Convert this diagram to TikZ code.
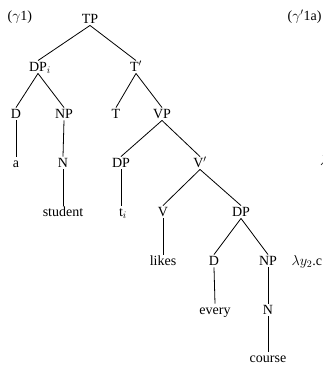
\documentclass[tikz,border=0pt]{standalone}
\usepackage{fontspec}
\setmainfont{Liberation Serif}
\begin{document}
\begin{tikzpicture}[x=1pt,y=-1pt,
  lab/.style={font=\fontsize{14}{16}\selectfont, inner sep=1.5pt, text height=9.5pt, text depth=0pt},
  edge/.style={line width=0.8pt}]
\useasboundingbox (0,0) rectangle (323,368);
\clip (0,0) rectangle (323,368);
% labels
\node[lab, anchor=west] (g1) at (6,16) {($\gamma$1)};
\node[lab, anchor=west] (g1a) at (286,16) {($\gamma'$1a)};
\node[lab, anchor=west] (lam) at (290,261) {$\lambda y_2$.c};
\node[lab, anchor=west, inner sep=0pt] (frag) at (320,161) {$\lambda$};
% tree nodes
\node[lab] (tp) at (90,19) {TP};
\node[lab] (dpi) at (38,67) {DP\rlap{$_i$}};
\node[lab] (tbar) at (136,67) {T$'$};
\node[lab] (d1) at (16,114) {D};
\node[lab] (np1) at (64,114) {NP};
\node[lab] (t) at (116,114) {T};
\node[lab] (vp) at (162,114) {VP};
\node[lab] (a) at (16,163) {a};
\node[lab] (n1) at (63,163) {N};
\node[lab] (dp2) at (121,163) {DP};
\node[lab] (vbar) at (200,163) {V$'$};
\node[lab] (student) at (63,212) {student};
\node[lab] (ti) at (121,212) {t\rlap{$_i$}};
\node[lab] (v) at (163,212) {V};
\node[lab] (dp3) at (241,212) {DP};
\node[lab] (likes) at (163,261) {likes};
\node[lab] (d2) at (214,261) {D};
\node[lab] (np2) at (268,261) {NP};
\node[lab] (every) at (215,310) {every};
\node[lab] (n2) at (268,310) {N};
\node[lab] (course) at (268,358) {course};
% edges
\draw[edge] (tp.south) -- (dpi.north);
\draw[edge] (tp.south) -- (tbar.north);
\draw[edge] (dpi.south) -- (d1.north);
\draw[edge] (dpi.south) -- (np1.north);
\draw[edge] (tbar.south) -- (t.north);
\draw[edge] (tbar.south) -- (vp.north);
\draw[edge] (d1.south) -- (a.north);
\draw[edge] (np1.south) -- (n1.north);
\draw[edge] (vp.south) -- (dp2.north);
\draw[edge] (vp.south) -- (vbar.north);
\draw[edge] (n1.south) -- (student.north);
\draw[edge] (dp2.south) -- (ti.north);
\draw[edge] (vbar.south) -- (v.north);
\draw[edge] (vbar.south) -- (dp3.north);
\draw[edge] (v.south) -- (likes.north);
\draw[edge] (dp3.south) -- (d2.north);
\draw[edge] (dp3.south) -- (np2.north);
\draw[edge] (d2.south) -- (every.north);
\draw[edge] (np2.south) -- (n2.north);
\draw[edge] (n2.south) -- (course.north);
\end{tikzpicture}
\end{document}
